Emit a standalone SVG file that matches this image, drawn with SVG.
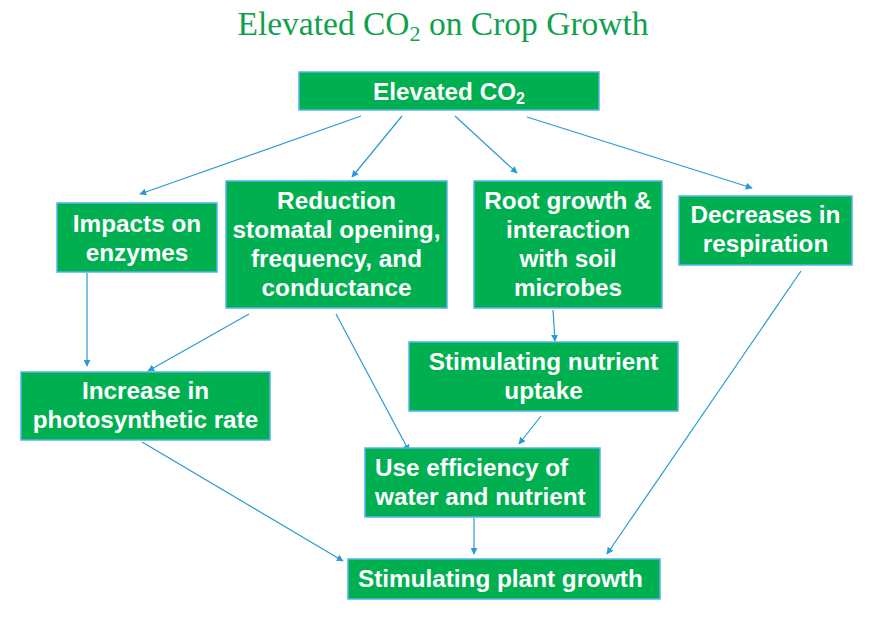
<svg xmlns="http://www.w3.org/2000/svg" width="885" height="620" viewBox="0 0 885 620">
<defs>
<style>
.box{fill:#00B050;stroke:#56B4E9;stroke-width:1.5}
.t{font-family:"Liberation Sans",Arial,sans-serif;font-weight:bold;font-size:24.3px;fill:#FFFFFF;text-anchor:middle}
.l{text-anchor:start}
.c{stroke:#2A9AD6;stroke-width:1.2;fill:none;marker-end:url(#ah)}
.title{font-family:"Liberation Serif","Times New Roman",serif;font-size:33.5px;fill:#0FA14F;text-anchor:middle}
</style>
<marker id="ah" viewBox="0 0 10 10" refX="9" refY="5" markerWidth="7" markerHeight="7" markerUnits="userSpaceOnUse" orient="auto">
<path d="M0,0 L10,5 L0,10 z" fill="#2A9AD6"/>
</marker>
</defs>
<rect width="885" height="620" fill="#FFFFFF"/>
<text class="title" x="443" y="35">Elevated CO<tspan font-size="22" dy="6">2</tspan><tspan dy="-6"> on Crop Growth</tspan></text>

<g id="connectors">
<line class="c" x1="361" y1="116" x2="140" y2="194"/>
<line class="c" x1="402" y1="116" x2="352" y2="177"/>
<line class="c" x1="455" y1="116" x2="517" y2="173"/>
<line class="c" x1="527" y1="117" x2="752" y2="188"/>
<line class="c" x1="87" y1="273" x2="87" y2="366"/>
<line class="c" x1="249" y1="314" x2="148" y2="371"/>
<line class="c" x1="336" y1="314" x2="409" y2="451"/>
<line class="c" x1="553" y1="310" x2="555" y2="341"/>
<line class="c" x1="541" y1="416" x2="519" y2="444"/>
<line class="c" x1="474" y1="518" x2="474" y2="554"/>
<line class="c" x1="142" y1="442" x2="343" y2="561"/>
<line class="c" x1="801" y1="271" x2="607" y2="554"/>
</g>

<g id="elevated">
<rect class="box" x="299" y="72" width="300" height="38"/>
<text class="t" x="449" y="100">Elevated CO<tspan font-size="16" dy="4">2</tspan></text>
</g>
<g id="enzymes">
<rect class="box" x="57" y="203" width="160" height="69"/>
<text class="t" x="137" y="232">Impacts on</text>
<text class="t" x="137" y="261">enzymes</text>
</g>
<g id="stomatal">
<rect class="box" x="226" y="181" width="221" height="127"/>
<text class="t" x="336.5" y="209">Reduction</text>
<text class="t" x="336.5" y="238">stomatal opening,</text>
<text class="t" x="336.5" y="267">frequency, and</text>
<text class="t" x="336.5" y="296">conductance</text>
</g>
<g id="root">
<rect class="box" x="474" y="181" width="188" height="127"/>
<text class="t" x="568" y="209">Root growth &amp;</text>
<text class="t" x="568" y="238">interaction</text>
<text class="t" x="568" y="267">with soil</text>
<text class="t" x="568" y="296">microbes</text>
</g>
<g id="respiration">
<rect class="box" x="679" y="196" width="173" height="69"/>
<text class="t" x="765.5" y="223">Decreases in</text>
<text class="t" x="765.5" y="252">respiration</text>
</g>
<g id="photosynthetic">
<rect class="box" x="21" y="372" width="249" height="68"/>
<text class="t" x="145.5" y="399">Increase in</text>
<text class="t" x="145.5" y="428">photosynthetic rate</text>
</g>
<g id="nutrient-uptake">
<rect class="box" x="409" y="342" width="269" height="69"/>
<text class="t" x="543.5" y="370">Stimulating nutrient</text>
<text class="t" x="543.5" y="399">uptake</text>
</g>
<g id="use-efficiency">
<rect class="box" x="365" y="448" width="235" height="69"/>
<text class="t l" x="375" y="476">Use efficiency of</text>
<text class="t l" x="375" y="505">water and nutrient</text>
</g>
<g id="plant-growth">
<rect class="box" x="348" y="559" width="312" height="40"/>
<text class="t l" x="358" y="587">Stimulating plant growth</text>
</g>
</svg>
